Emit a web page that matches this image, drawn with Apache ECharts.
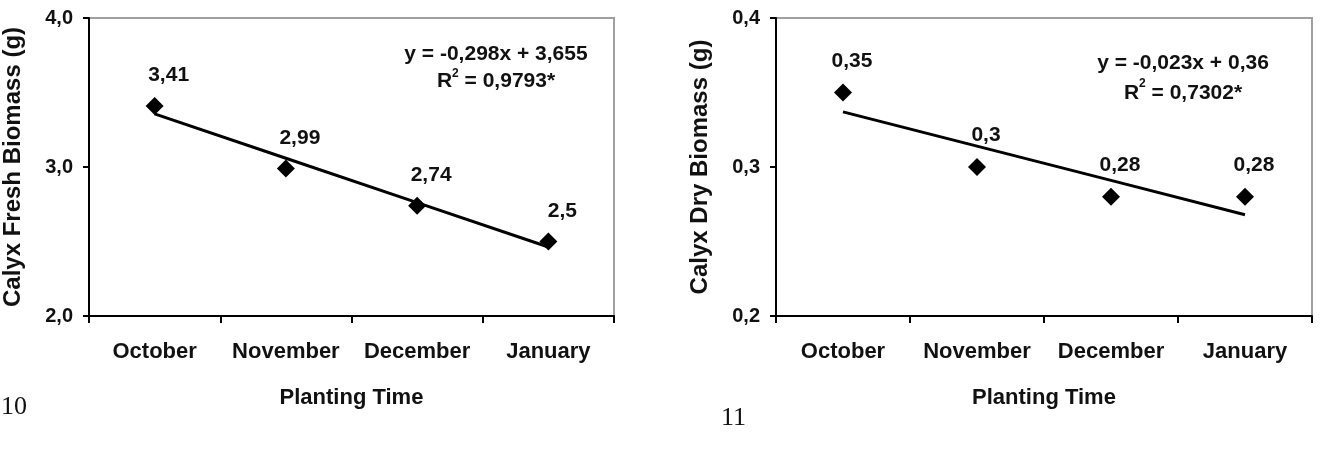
<!DOCTYPE html>
<html>
<head>
<meta charset="utf-8">
<script src="https://cdn.jsdelivr.net/npm/echarts@6/dist/echarts.min.js"></script>
<style>
  html, body { margin: 0; padding: 0; background: #fff; }
  #main { width: 1322px; height: 455px; }
</style>
</head>
<body>
<div id="main"></div>
<script>
// data
var months = ['October', 'November', 'December', 'January'];
var freshMass = [3.41, 2.99, 2.74, 2.5];
var freshTrend = [3.357, 3.059, 2.761, 2.463];
var dryMass = [0.35, 0.3, 0.28, 0.28];
var dryTrend = [0.337, 0.314, 0.291, 0.268];
var freshTicks = [2, 3, 4];
var dryTicks = [0.2, 0.3, 0.4];

var FONT = '"Liberation Sans", Arial, sans-serif';
var SERIF = '"Liberation Serif", "Times New Roman", serif';

function comma(v, d) {
    return (d == null ? String(v) : v.toFixed(d)).replace('.', ',');
}

function xAxisFor(idx) {
    return {
        type: 'category',
        gridIndex: idx,
        data: months,
        boundaryGap: true,
        name: 'Planting Time',
        nameLocation: 'middle',
        nameGap: 71,
        nameTextStyle: { fontFamily: FONT, fontWeight: 'bold', fontSize: 22, color: '#111' },
        axisLine: { lineStyle: { color: '#000', width: 2 } },
        axisTick: { show: true, interval: 0, length: 7, inside: false, lineStyle: { color: '#000', width: 2 } },
        axisLabel: { interval: 0, fontFamily: FONT, fontWeight: 'bold', fontSize: 22, color: '#111', margin: 25 },
        splitLine: { show: false }
    };
}

function yAxisFor(idx, name, ticks) {
    return {
        type: 'value',
        gridIndex: idx,
        min: ticks[0],
        max: ticks[ticks.length - 1],
        interval: ticks[1] - ticks[0],
        name: name,
        nameLocation: 'middle',
        nameGap: 64,
        nameRotate: 90,
        nameTextStyle: { fontFamily: FONT, fontWeight: 'bold', fontSize: 24, color: '#111' },
        axisLine: { show: true, lineStyle: { color: '#000', width: 2 } },
        axisTick: { show: true, length: 6, lineStyle: { color: '#000', width: 2 } },
        axisLabel: {
            fontFamily: FONT, fontWeight: 'bold', fontSize: 20, color: '#111', margin: 16,
            formatter: function (v) { return comma(v, 1); }
        },
        splitLine: { show: false }
    };
}

function points(idx, values, dx, dist) {
    return {
        type: 'scatter',
        xAxisIndex: idx,
        yAxisIndex: idx,
        data: values,
        symbol: 'diamond',
        symbolSize: [18, 18],
        itemStyle: { color: '#000', opacity: 1 },
        z: 3,
        label: {
            show: true,
            position: 'top',
            distance: dist,
            offset: [dx, 0],
            fontFamily: FONT,
            fontWeight: 'bold',
            fontSize: 21,
            color: '#111',
            formatter: function (p) { return comma(p.value); }
        }
    };
}

function trend(idx, values) {
    return {
        type: 'line',
        xAxisIndex: idx,
        yAxisIndex: idx,
        data: values,
        symbol: 'none',
        lineStyle: { color: '#000', width: 3 },
        z: 2,
        silent: true
    };
}

function eqText(x, y, lh, line1, r2) {
    var base = { fontFamily: FONT, fontWeight: 'bold', fontSize: 21, lineHeight: lh };
    return {
        type: 'text',
        x: x,
        y: y,
        style: {
            text: '{a|' + line1 + '}\n{b|R}{s|2}{b| = ' + r2 + '}',
            align: 'center',
            fill: '#111',
            rich: {
                a: base,
                b: base,
                s: { fontFamily: FONT, fontWeight: 'bold', fontSize: 12, lineHeight: lh, verticalAlign: 'top', padding: [0, 0, 10, 0] }
            }
        }
    };
}

var chart = echarts.init(document.getElementById('main'), null, { renderer: 'canvas' });

chart.setOption({
    backgroundColor: '#fff',
    animation: false,
    grid: [
        { left: 80, top: 18, width: 534, height: 298, show: true, borderColor: '#a0a0a0', borderWidth: 2, backgroundColor: 'transparent' },
        { left: 776, top: 18, width: 536, height: 298, show: true, borderColor: '#a0a0a0', borderWidth: 2, backgroundColor: 'transparent' }
    ],
    xAxis: [xAxisFor(0), xAxisFor(1)],
    yAxis: [
        yAxisFor(0, 'Calyx Fresh Biomass (g)', freshTicks),
        yAxisFor(1, 'Calyx Dry Biomass (g)', dryTicks)
    ],
    series: [
        trend(0, freshTrend),
        points(0, freshMass, 14, 11),
        trend(1, dryTrend),
        points(1, dryMass, 9, 12)
    ],
    graphic: [
        eqText(496, 41, 27, 'y = -0,298x + 3,655', '0,9793*'),
        eqText(1183, 48, 30, 'y = -0,023x + 0,36', '0,7302*'),
        {
            type: 'text', left: 1, top: 394,
            style: { text: '10', fontFamily: SERIF, fontSize: 26, fill: '#111' }
        },
        {
            type: 'text', left: 721, top: 405,
            style: { text: '11', fontFamily: SERIF, fontSize: 26, fill: '#111' }
        }
    ]
});
</script>
</body>
</html>
